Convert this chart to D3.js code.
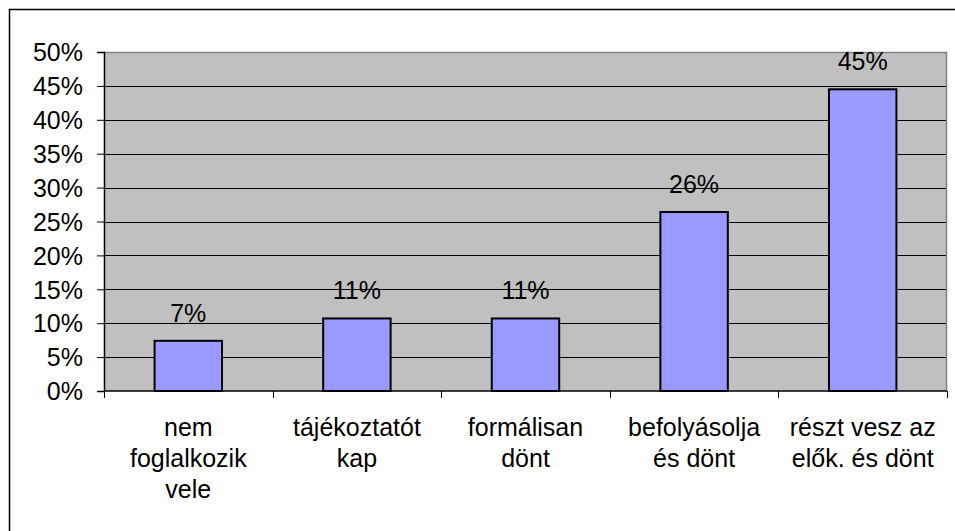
<!DOCTYPE html>
<html>
<head>
<meta charset="utf-8">
<script src="https://cdn.jsdelivr.net/npm/d3@7"></script>
<style>
body { margin: 0; background: #fff; }
svg text { font-family: "Liberation Sans", Arial, sans-serif; fill: #000; }
</style>
</head>
<body>
<div id="chart"></div>
<script>
// categories (line-broken as in the original) and values in %
var categories = [
	["nem", "foglalkozik", "vele"],
	["tájékoztatót", "kap"],
	["formálisan", "dönt"],
	["befolyásolja", "és dönt"],
	["részt vesz az", "elők. és dönt"]
];
var values = [7.4, 10.7, 10.7, 26.4, 44.5];
var labels = ["7%", "11%", "11%", "26%", "45%"];
var yTicks = [0, 5, 10, 15, 20, 25, 30, 35, 40, 45, 50];

var W = 955, H = 531;
var margin = {top: 52, right: 8, bottom: 140, left: 104};
var w = W - margin.left - margin.right,
	h = H - margin.top - margin.bottom;

var svg = d3.select("#chart").append("svg")
			.attr("width", W)
			.attr("height", H);

// outer chart frame (right/bottom run off the picture)
svg.append("rect")
   .attr("x", 9.5).attr("y", 9.5)
   .attr("width", W + 20).attr("height", H + 20)
   .attr("fill", "none")
   .attr("stroke", "#000")
   .attr("stroke-width", 1.5);

var g = svg.append("g")
		   .attr("transform", "translate(" + margin.left + "," + margin.top + ")");

var xScale = d3.scaleBand()
			   .domain(d3.range(categories.length))
			   .range([0, w])
			   .paddingInner(0.6)
			   .paddingOuter(0.3);
var band = d3.scaleBand().domain(d3.range(categories.length)).range([0, w]);

var yScale = d3.scaleLinear().domain([0, 50]).range([h, 0]);

// plot area
g.append("rect")
 .attr("width", w).attr("height", h)
 .attr("fill", "#c0c0c0");

// gridlines
g.selectAll("line.grid")
 .data(yTicks.filter(function(d){ return d > 0 && d < 50; }))
 .enter()
 .append("line")
 .attr("class", "grid")
 .attr("x1", 0).attr("x2", w)
 .attr("y1", function(d){ return Math.round(yScale(d)) + 0.5; })
 .attr("y2", function(d){ return Math.round(yScale(d)) + 0.5; })
 .attr("stroke", "#000");

// top and right border of plot area
g.append("path")
 .attr("d", "M0,0.5H" + (w - 0.5) + "V" + h)
 .attr("fill", "none")
 .attr("stroke", "#808080")
 .attr("stroke-width", 1.5);

// bars
g.selectAll("rect.bar")
 .data(values)
 .enter()
 .append("rect")
 .attr("class", "bar")
 .attr("x", function(d, i){ return xScale(i); })
 .attr("y", function(d){ return yScale(d); })
 .attr("width", xScale.bandwidth())
 .attr("height", function(d){ return h - yScale(d); })
 .attr("fill", "#9999ff")
 .attr("stroke", "#000")
 .attr("stroke-width", 2);

// value labels
g.selectAll("text.val")
 .data(values)
 .enter()
 .append("text")
 .attr("class", "val")
 .attr("x", function(d, i){ return xScale(i) + xScale.bandwidth() / 2; })
 .attr("y", function(d){ return yScale(d) - 19; })
 .attr("text-anchor", "middle")
 .style("font-size", "25px")
 .text(function(d, i){ return labels[i]; });

// y axis
var yAxis = d3.axisLeft(yScale)
			  .tickValues(yTicks)
			  .tickSize(7)
			  .tickPadding(14)
			  .tickFormat(function(d){ return d + "%"; });
var ya = g.append("g").call(yAxis);
ya.select(".domain").attr("stroke", "#000").attr("stroke-width", 1.5);
ya.selectAll("text").style("font-size", "25px").attr("dy", "0.35em");

// x axis with ticks at category boundaries
g.append("line")
 .attr("x1", 0).attr("x2", w)
 .attr("y1", h).attr("y2", h)
 .attr("stroke", "#000").attr("stroke-width", 1.5);
g.selectAll("line.xtick")
 .data(d3.range(categories.length + 1))
 .enter()
 .append("line")
 .attr("class", "xtick")
 .attr("x1", function(d){ return Math.round(d * band.bandwidth()) + 0.5; })
 .attr("x2", function(d){ return Math.round(d * band.bandwidth()) + 0.5; })
 .attr("y1", h).attr("y2", h + 7)
 .attr("stroke", "#000");

// category labels
var cl = g.selectAll("text.cat")
		  .data(categories)
		  .enter()
		  .append("text")
		  .attr("class", "cat")
		  .attr("text-anchor", "middle")
		  .style("font-size", "25px")
		  .attr("transform", function(d, i){
			  return "translate(" + (band(i) + band.bandwidth() / 2) + "," + (h + 45) + ")";
		  });
cl.selectAll("tspan")
  .data(function(d){ return d; })
  .enter()
  .append("tspan")
  .attr("x", 0)
  .attr("y", function(d, i){ return i * 31; })
  .text(function(d){ return d; });
</script>
</body>
</html>
